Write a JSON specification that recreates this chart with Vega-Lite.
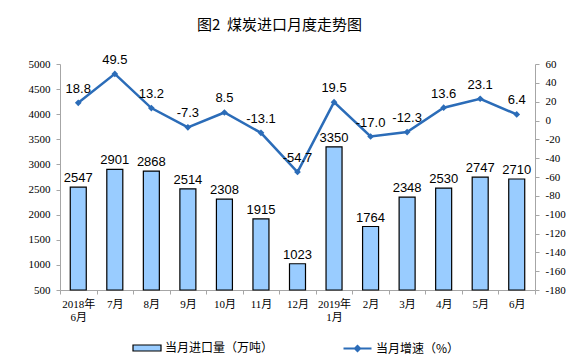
{
  "$schema": "https://vega.github.io/schema/vega-lite/v6.json",
  "width": 475,
  "height": 226,
  "autosize": {"type": "none"},
  "padding": {"left": 60, "top": 64, "right": 53, "bottom": 66},
  "background": "white",
  "title": {
    "text": "图2\u00a0\u00a0煤炭进口月度走势图",
    "font": "Noto Sans CJK SC",
    "fontSize": 15,
    "fontWeight": "normal",
    "color": "#000000",
    "anchor": "middle",
    "dx": -18,
    "offset": 21
  },
  "config": {
    "locale": {"number": {"decimal": ".", "thousands": "", "grouping": [3], "currency": ["", ""], "minus": "-"}},
    "view": {"stroke": null},
    "axis": {
      "grid": false,
      "domainColor": "#A6A6A6",
      "tickColor": "#A6A6A6",
      "labelColor": "#000000",
      "labelFont": "Liberation Serif",
      "labelFontSize": 11,
      "title": null
    }
  },
  "data": {
    "values": [
      {"m": "2018年|6月", "vol": 2547, "rate": 18.8},
      {"m": "7月", "vol": 2901, "rate": 49.5},
      {"m": "8月", "vol": 2868, "rate": 13.2},
      {"m": "9月", "vol": 2514, "rate": -7.3},
      {"m": "10月", "vol": 2308, "rate": 8.5},
      {"m": "11月", "vol": 1915, "rate": -13.1},
      {"m": "12月", "vol": 1023, "rate": -54.7},
      {"m": "2019年|1月", "vol": 3350, "rate": 19.5},
      {"m": "2月", "vol": 1764, "rate": -17.0},
      {"m": "3月", "vol": 2348, "rate": -12.3},
      {"m": "4月", "vol": 2530, "rate": 13.6},
      {"m": "5月", "vol": 2747, "rate": 23.1},
      {"m": "6月", "vol": 2710, "rate": 6.4}
    ]
  },
  "encoding": {
    "x": {
      "field": "m",
      "type": "nominal",
      "sort": null,
      "scale": {"paddingInner": 0, "paddingOuter": 0},
      "axis": {
        "labelAngle": 0,
        "labelExpr": "split(datum.label, '|')",
        "labelFont": "Liberation Serif, Noto Sans CJK SC",
        "labelLineHeight": 13,
        "labelPadding": 4,
        "tickBand": "extent",
        "tickSize": 4,
        "title": null
      }
    }
  },
  "layer": [
    {
      "encoding": {
        "y": {
          "field": "vol",
          "type": "quantitative",
          "scale": {"domain": [500, 5000], "nice": false, "zero": false},
          "axis": {"orient": "left", "format": "d", "values": [500,1000,1500,2000,2500,3000,3500,4000,4500,5000], "tickSize": 4, "labelPadding": 6, "title": null}
        }
      },
      "layer": [
        {
          "mark": {"type": "bar", "size": 16, "stroke": "#000000", "strokeWidth": 1.2},
          "encoding": {
            "y2": {"datum": 500},
            "fill": {
              "datum": "当月进口量（万吨）",
              "type": "nominal",
              "scale": {"range": ["#99CCFF"]},
              "legend": {
                "orient": "none",
                "legendX": 72,
                "legendY": 269,
                "title": null,
                "symbolType": "M-1,-0.214H1V0.214H-1Z",
                "symbolSize": 784,
                "symbolStrokeColor": "#000000",
                "symbolStrokeWidth": 1.2,
                "symbolOffset": 0,
                "labelFont": "Noto Sans CJK SC",
                "labelFontSize": 12,
                "labelColor": "#000000",
                "labelOffset": 3,
                "padding": 0
              }
            }
          }
        },
        {
          "mark": {"type": "text", "dy": -9, "font": "Liberation Sans", "fontSize": 13, "color": "#000000"},
          "encoding": {"text": {"field": "vol", "type": "quantitative", "format": "d"}}
        }
      ]
    },
    {
      "encoding": {
        "y": {
          "field": "rate",
          "type": "quantitative",
          "scale": {"domain": [-180, 60], "nice": false, "zero": false},
          "axis": {"orient": "right", "format": "d", "values": [-180,-160,-140,-120,-100,-80,-60,-40,-20,0,20,40,60], "tickSize": 4, "labelPadding": 6, "title": null}
        }
      },
      "layer": [
        {
          "mark": {"type": "line", "strokeWidth": 2.5},
          "encoding": {
            "stroke": {
              "datum": "当月增速（%）",
              "type": "nominal",
              "scale": {"range": ["#2B6CB8"]},
              "legend": {
                "orient": "none",
                "legendX": 282,
                "legendY": 269,
                "title": null,
                "symbolType": "M-1,0H1M-0.18,0L0,-0.18L0.18,0L0,0.18Z",
                "symbolSize": 784,
                "symbolFillColor": "#2B6CB8",
                "symbolStrokeWidth": 2.2,
                "symbolOffset": 0,
                "labelFont": "Noto Sans CJK SC",
                "labelFontSize": 12,
                "labelColor": "#000000",
                "labelOffset": 3,
                "padding": 0
              }
            }
          }
        },
        {
          "mark": {"type": "point", "shape": "diamond", "filled": true, "size": 45, "color": "#2B6CB8", "opacity": 1}
        },
        {
          "mark": {"type": "text", "dy": -14, "font": "Liberation Sans", "fontSize": 13, "color": "#000000"},
          "encoding": {"text": {"field": "rate", "type": "quantitative", "format": ".1f"}}
        }
      ]
    }
  ],
  "resolve": {"scale": {"y": "independent"}}
}
